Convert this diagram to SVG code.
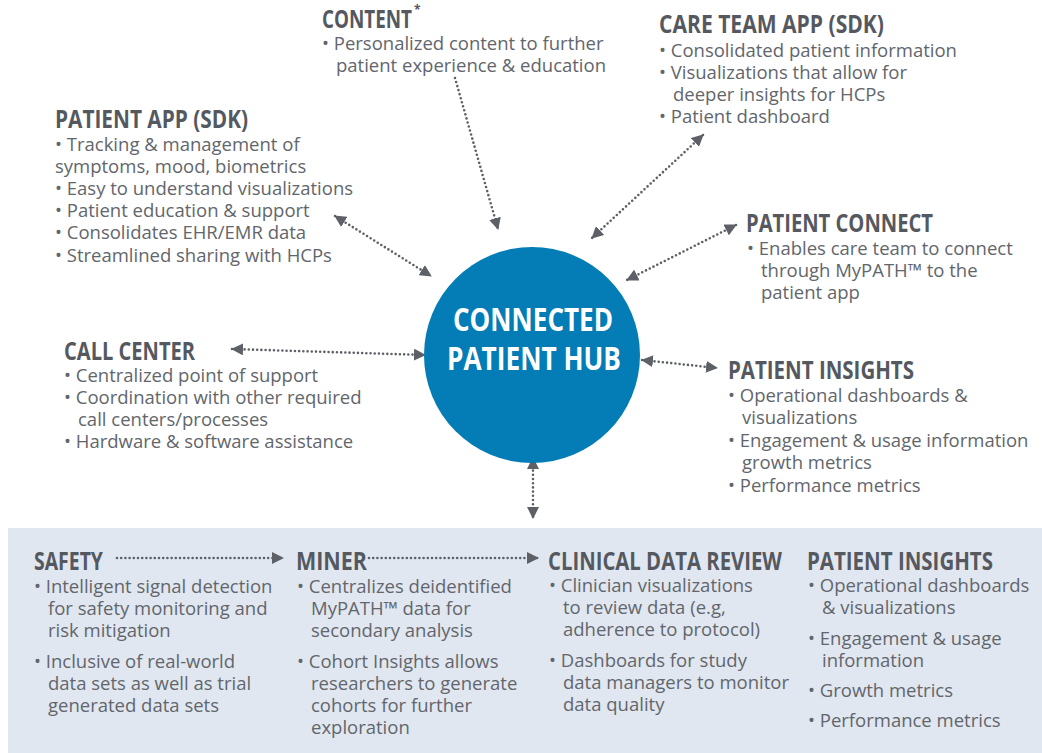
<svg xmlns="http://www.w3.org/2000/svg" width="1042" height="753" viewBox="0 0 1042 753">
<style>
.h{font-family:"Open Sans","Liberation Sans",sans-serif;font-weight:700;font-size:25px;fill:#55595F}
.b{font-family:"Open Sans","Liberation Sans",sans-serif;font-weight:400;font-size:18.5px;fill:#62666C}
.hub{font-family:"Open Sans","Liberation Sans",sans-serif;font-weight:700;font-size:32px;fill:#FFFFFF}
.c{fill:none;stroke:#5D6167;stroke-width:2.6;stroke-linecap:round;stroke-dasharray:0 4.2}
</style>
<defs>
<marker id="ah" viewBox="0 0 12 12" refX="11" refY="6" markerWidth="12" markerHeight="12" markerUnits="userSpaceOnUse" orient="auto-start-reverse">
<path d="M0,0 L12,6 L0,12 Z" fill="#5D6167"/>
</marker>
</defs>
<rect width="1042" height="753" fill="#FFFFFF"/>
<rect id="band" x="8" y="528" width="1034" height="225" fill="#E1E7F0"/>

<g id="connectors">
<path class="c" d="M455,78 L498,229" marker-end="url(#ah)"/>
<path class="c" d="M703,135 L592,238" marker-start="url(#ah)" marker-end="url(#ah)"/>
<path class="c" d="M736,225 L627,280" marker-start="url(#ah)" marker-end="url(#ah)"/>
<path class="c" d="M335,216 L431,276" marker-start="url(#ah)" marker-end="url(#ah)"/>
<path class="c" d="M232,349 L425,355" marker-start="url(#ah)" marker-end="url(#ah)"/>
<path class="c" d="M642,360 L717,368" marker-start="url(#ah)" marker-end="url(#ah)"/>
<path class="c" d="M533,458 L533,518" marker-start="url(#ah)" marker-end="url(#ah)"/>
<path class="c" d="M117,558 L283,558" marker-end="url(#ah)"/>
<path class="c" d="M369,558 L538,558" marker-end="url(#ah)"/>
</g>

<g id="node-hub">
<circle cx="532" cy="355" r="108" fill="#047DB6"/>
<text class="hub" x="453" y="331" textLength="160" lengthAdjust="spacingAndGlyphs">CONNECTED</text>
<text class="hub" x="447" y="370" textLength="174" lengthAdjust="spacingAndGlyphs">PATIENT HUB</text>
</g>

<g id="node-content">
<text class="h" x="322" y="28" textLength="90" lengthAdjust="spacingAndGlyphs">CONTENT</text>
<text class="h" x="414" y="14" style="font-size:12px">*</text>
<text class="b" x="322" y="50">• Personalized content to further</text>
<text class="b" x="336" y="72">patient experience &amp; education</text>
</g>

<g id="node-care-team">
<text class="h" x="659" y="33" textLength="225" lengthAdjust="spacingAndGlyphs">CARE TEAM APP (SDK)</text>
<text class="b" x="659" y="57">• Consolidated patient information</text>
<text class="b" x="659" y="79">• Visualizations that allow for</text>
<text class="b" x="673" y="101">deeper insights for HCPs</text>
<text class="b" x="659" y="123">• Patient dashboard</text>
</g>

<g id="node-patient-app">
<text class="h" x="55" y="128" textLength="193" lengthAdjust="spacingAndGlyphs">PATIENT APP (SDK)</text>
<text class="b" x="55" y="151">• Tracking &amp; management of</text>
<text class="b" x="55" y="173">symptoms, mood, biometrics</text>
<text class="b" x="55" y="195">• Easy to understand visualizations</text>
<text class="b" x="55" y="217">• Patient education &amp; support</text>
<text class="b" x="55" y="239">• Consolidates EHR/EMR data</text>
<text class="b" x="55" y="262">• Streamlined sharing with HCPs</text>
</g>

<g id="node-patient-connect">
<text class="h" x="746" y="232" textLength="187" lengthAdjust="spacingAndGlyphs">PATIENT CONNECT</text>
<text class="b" x="747" y="255">• Enables care team to connect</text>
<text class="b" x="761" y="277">through MyPATH™ to the</text>
<text class="b" x="761" y="299">patient app</text>
</g>

<g id="node-call-center">
<text class="h" x="64" y="360" textLength="131" lengthAdjust="spacingAndGlyphs">CALL CENTER</text>
<text class="b" x="64" y="382">• Centralized point of support</text>
<text class="b" x="64" y="404">• Coordination with other required</text>
<text class="b" x="78" y="426">call centers/processes</text>
<text class="b" x="64" y="448">• Hardware &amp; software assistance</text>
</g>

<g id="node-patient-insights">
<text class="h" x="728" y="379" textLength="186" lengthAdjust="spacingAndGlyphs">PATIENT INSIGHTS</text>
<text class="b" x="728" y="402">• Operational dashboards &amp;</text>
<text class="b" x="742" y="424">visualizations</text>
<text class="b" x="728" y="447">• Engagement &amp; usage information</text>
<text class="b" x="742" y="469">growth metrics</text>
<text class="b" x="728" y="492">• Performance metrics</text>
</g>

<g id="node-safety">
<text class="h" x="34" y="570" textLength="69" lengthAdjust="spacingAndGlyphs">SAFETY</text>
<text class="b" x="34" y="593">• Intelligent signal detection</text>
<text class="b" x="48" y="615">for safety monitoring and</text>
<text class="b" x="48" y="637">risk mitigation</text>
<text class="b" x="34" y="668">• Inclusive of real-world</text>
<text class="b" x="48" y="690">data sets as well as trial</text>
<text class="b" x="48" y="712">generated data sets</text>
</g>

<g id="node-miner">
<text class="h" x="296" y="570" textLength="71" lengthAdjust="spacingAndGlyphs">MINER</text>
<text class="b" x="297" y="593">• Centralizes deidentified</text>
<text class="b" x="311" y="615">MyPATH™ data for</text>
<text class="b" x="311" y="637">secondary analysis</text>
<text class="b" x="297" y="668">• Cohort Insights allows</text>
<text class="b" x="311" y="690">researchers to generate</text>
<text class="b" x="311" y="712">cohorts for further</text>
<text class="b" x="311" y="734">exploration</text>
</g>

<g id="node-clinical">
<text class="h" x="548" y="570" textLength="234" lengthAdjust="spacingAndGlyphs">CLINICAL DATA REVIEW</text>
<text class="b" x="549" y="592">• Clinician visualizations</text>
<text class="b" x="563" y="614">to review data (e.g,</text>
<text class="b" x="563" y="636">adherence to protocol)</text>
<text class="b" x="549" y="667">• Dashboards for study</text>
<text class="b" x="563" y="689">data managers to monitor</text>
<text class="b" x="563" y="711">data quality</text>
</g>

<g id="node-patient-insights-2">
<text class="h" x="807" y="570" textLength="186" lengthAdjust="spacingAndGlyphs">PATIENT INSIGHTS</text>
<text class="b" x="808" y="592">• Operational dashboards</text>
<text class="b" x="822" y="614">&amp; visualizations</text>
<text class="b" x="808" y="645">• Engagement &amp; usage</text>
<text class="b" x="822" y="667">information</text>
<text class="b" x="808" y="697">• Growth metrics</text>
<text class="b" x="808" y="727">• Performance metrics</text>
</g>
</svg>
